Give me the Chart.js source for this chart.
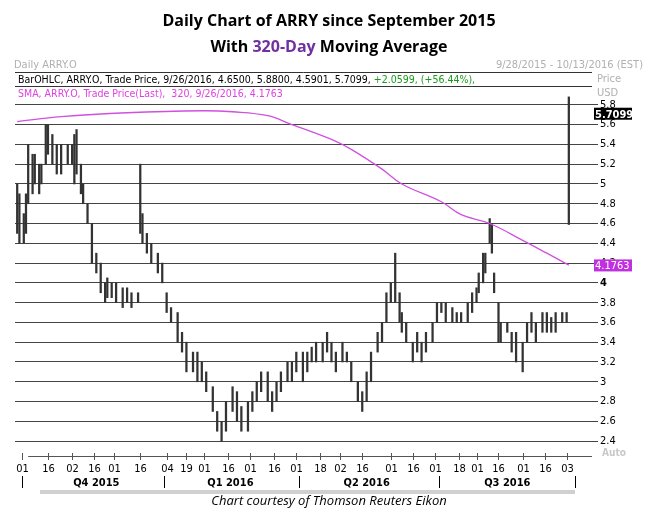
<!DOCTYPE html>
<html><head><meta charset="utf-8">
<script src="https://cdn.jsdelivr.net/npm/chart.js@4/dist/chart.umd.min.js"></script>
<style>html,body{margin:0;padding:0;background:#fff}#w{position:relative;width:658px;height:513px}</style>
</head><body><div id="w"><canvas id="c" width="658" height="513"></canvas></div>
<script>
const days=[0,1,3,4,5,7,8,10,11,13,14,16,18,20,23,25,26,27,29,30,32,34,36,38,40,41,43,45,48,50,52,55,56,57,59,61,64,66,68,70,73,75,77,80,82,84,86,89,91,93,95,98,100,102,105,107,109,111,114,116,118,120,123,125,127,130,132,134,136,139,141,143,145,148,150,152,155,157,159,161,164,166,168,170,172,174,175,177,180,182,184,186,189,191,193,195,198,200,202,205,207,209,210,212,213,215,216,217,219,220,223,225,227,230,232,234,236,239,241,243,245,248,250,251];
const lows=[4.5,4.4,4.4,4.5,4.8,4.9,5.0,4.9,5.0,5.2,5.3,5.2,5.1,5.1,5.2,5.2,5.0,5.1,4.9,4.8,4.6,4.2,4.1,3.9,3.8,3.85,3.85,3.8,3.75,3.8,3.75,3.8,4.5,4.4,4.3,4.2,4.1,4.0,3.7,3.6,3.4,3.3,3.1,3.1,3.0,3.0,2.9,2.7,2.5,2.4,2.5,2.7,2.6,2.5,2.5,2.7,2.8,2.9,2.8,2.7,2.8,2.9,3.0,3.0,3.1,3.0,3.1,3.2,3.2,3.2,3.3,3.2,3.1,3.2,3.2,3.0,2.8,2.7,2.8,3.0,3.3,3.4,3.6,3.8,3.8,3.6,3.5,3.4,3.2,3.3,3.2,3.3,3.4,3.6,3.7,3.6,3.6,3.6,3.6,3.6,3.7,3.8,3.9,4.0,4.1,4.4,4.3,3.9,3.4,3.4,3.5,3.3,3.2,3.1,3.4,3.5,3.4,3.5,3.5,3.5,3.5,3.6,3.6,4.59];
const highs=[5.0,4.9,4.7,4.9,5.4,5.3,5.3,5.2,5.2,5.6,5.6,5.5,5.4,5.4,5.4,5.4,5.5,5.55,5.2,5.0,4.8,4.6,4.3,4.2,4.0,4.05,4.0,4.0,3.95,3.95,3.9,3.9,5.2,4.7,4.5,4.4,4.3,4.2,3.9,3.75,3.7,3.5,3.4,3.3,3.3,3.2,3.1,2.95,2.7,2.6,2.8,2.95,2.9,2.75,2.8,2.9,3.0,3.1,3.1,2.9,3.0,3.1,3.2,3.2,3.3,3.3,3.3,3.35,3.4,3.4,3.5,3.4,3.3,3.4,3.3,3.2,3.0,2.9,3.1,3.3,3.5,3.6,3.9,4.0,4.3,3.9,3.7,3.6,3.4,3.5,3.4,3.5,3.6,3.8,3.8,3.8,3.75,3.7,3.7,3.8,3.9,3.95,4.1,4.3,4.3,4.65,4.6,4.1,3.8,3.6,3.6,3.5,3.5,3.4,3.6,3.7,3.6,3.7,3.7,3.65,3.7,3.7,3.7,5.88];
const smaDays=[0,20,50,84,98,114,125,143,152,166,175,193,202,215,230,241,251];
const smaVals=[5.63,5.68,5.72,5.74,5.73,5.69,5.6,5.45,5.35,5.15,5.0,4.82,4.69,4.6,4.43,4.3,4.18];
const yTicks=[2.4,2.6,2.8,3,3.2,3.4,3.6,3.8,4,4.2,4.4,4.6,4.8,5,5.2,5.4,5.6,5.8];
const xTickDays=[2,14,25,35,44,56,68,77,85,96,106,117,127,138,147,157,170,180,190,201,209,219,230,240,250];
const xTickLabels=['01','16','02','16','01','16','04','19','01','16','01','16','01','18','02','16','01','16','01','18','01','16','01','16','03'];
const quarterDays=[36,97,159,223];
const quarterLabels=['Q4 2015','Q1 2016','Q2 2016','Q3 2016'];
const quarterBounds=[2,67,128,192,254];
const lastClose=5.7099, lastSma=4.1763;

const deco={id:'deco',afterDraw(ch){
 const c=ch.ctx,a=ch.chartArea,x=ch.scales.x,y=ch.scales.y;
 c.save();
 c.textAlign='center';c.fillStyle='#000';c.font='bold 16px "Open Sans",sans-serif';
 c.fillText('Daily Chart of ARRY since September 2015',329,26);
 const p1='With ',p2='320-Day',p3=' Moving Average';
 const w1=c.measureText(p1).width,w2=c.measureText(p2).width,w3=c.measureText(p3).width;
 let sx=329-(w1+w2+w3)/2;c.textAlign='left';
 c.fillText(p1,sx,52);c.fillStyle='#7030a0';c.fillText(p2,sx+w1,52);c.fillStyle='#000';c.fillText(p3,sx+w1+w2,52);
 c.font='11px "DejaVu Sans Condensed",sans-serif';c.fillStyle='#b0b0b0';
 c.fillText('Daily ARRY.O',14,68);c.textAlign='right';c.fillText('9/28/2015 - 10/13/2016 (EST)',643,68);
 c.textAlign='left';c.fillText('Price',597,82);c.fillText('USD',597,96);
 c.strokeStyle='#333';c.lineWidth=1;c.beginPath();c.moveTo(15,72.5);c.lineTo(592,72.5);c.stroke();
 c.beginPath();c.moveTo(15,86.5);c.lineTo(592,86.5);c.stroke();
 c.font='10.5px "DejaVu Sans Condensed",sans-serif';
 const s1='BarOHLC, ARRY.O, Trade Price, 9/26/2016, 4.6500, 5.8800, 4.5901, 5.7099, ';
 c.fillStyle='#000';c.fillText(s1,18,83);const ws=c.measureText(s1).width;
 c.fillStyle='#1a9a1a';c.fillText('+2.0599, (+56.44%),',18+ws,83);
 c.fillStyle='#e040e0';c.fillText('SMA, ARRY.O, Trade Price(Last),  320, 9/26/2016, 4.1763',18,97);
 const yb=y.getPixelForValue(lastClose);c.fillStyle='#000';c.fillRect(594,yb-6,38,12);
 c.fillStyle='#fff';c.font='bold 11px "DejaVu Sans Condensed",sans-serif';c.fillText('5.7099',595,yb+4);
 const ys=y.getPixelForValue(lastSma);c.fillStyle='#c030e0';c.fillRect(594,ys-6,38,12);
 c.fillStyle='#fff';c.font='11px "DejaVu Sans Condensed",sans-serif';c.fillText('4.1763',595,ys+4);
 const by=a.bottom;c.strokeStyle='#555';c.beginPath();c.moveTo(x.getPixelForValue(5),by+4.5);c.lineTo(592,by+4.5);c.stroke();
 c.fillStyle='#000';c.textAlign='center';c.font='11px "DejaVu Sans Condensed",sans-serif';
 xTickDays.forEach((d,i)=>{const px=Math.round(x.getPixelForValue(d))+0.5;c.beginPath();c.moveTo(px,by+1);c.lineTo(px,by+8);c.stroke();c.fillText(xTickLabels[i],px,by+20);});
 c.font='bold 11px "DejaVu Sans Condensed",sans-serif';
 quarterDays.forEach((d,i)=>c.fillText(quarterLabels[i],x.getPixelForValue(d),by+34));
 c.strokeStyle='#000';quarterBounds.forEach(d=>{const px=Math.round(x.getPixelForValue(d))+0.5;c.beginPath();c.moveTo(px,by+24);c.lineTo(px,by+36);c.stroke();});
 c.fillStyle='#d0d0d0';c.fillRect(40,by+38,535,4);
 c.fillStyle='#c8c8c8';c.font='bold 10px "DejaVu Sans Condensed",sans-serif';c.fillText('Auto',614,by+4);
 c.fillStyle='#000';c.font='italic 13px "Open Sans",sans-serif';c.fillText('Chart courtesy of Thomson Reuters Eikon',329,by+53);
 c.restore();
}};

new Chart(document.getElementById('c'),{
 data:{datasets:[
  {type:'bar',data:days.map((d,i)=>({x:d,y:[lows[i],highs[i]]})),backgroundColor:'#333',barThickness:1.6,grouped:false,order:2},
  {type:'line',data:smaDays.map((d,i)=>({x:d,y:smaVals[i]})),borderColor:'#d050e0',borderWidth:1.3,pointRadius:0,tension:0.4,order:1}
 ]},
 options:{responsive:false,animation:false,events:[],
  layout:{padding:{left:15,top:88,bottom:61,right:0}},
  plugins:{legend:{display:false},tooltip:{enabled:false}},
  scales:{
   x:{type:'linear',min:-1,max:262,display:false,offset:false},
   y:{position:'right',min:2.29,max:5.97,afterFit:s=>{s.width=65;},
      afterBuildTicks:s=>{s.ticks=yTicks.map(v=>({value:v}));},
      border:{display:false},
      grid:{color:'#444',lineWidth:1,tickLength:5},
      ticks:{color:'#000',padding:2,font:c=>({family:'"DejaVu Sans Condensed",sans-serif',size:11,weight:c.tick&&c.tick.value===4?'bold':'normal'}),callback:v=>String(+v.toFixed(1))}}
  }},
 plugins:[deco]
});
</script></body></html>
